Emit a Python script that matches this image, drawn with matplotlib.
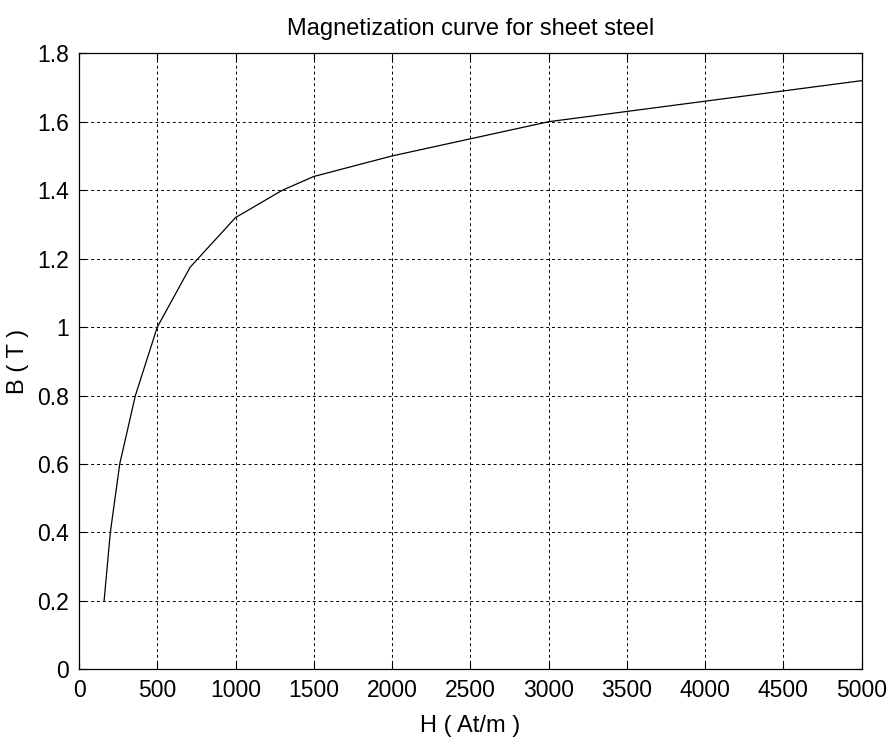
import numpy as np
import matplotlib.pyplot as plt

plt.rcParams['font.family'] = ['Liberation Sans', 'DejaVu Sans']

# magnetization curve
H = [160, 200, 260, 360, 500, 710, 1000, 1300, 1500, 2000, 2500, 3000, 5000]
B = [0.2, 0.4, 0.6, 0.8, 1.0, 1.175, 1.32, 1.4, 1.44, 1.5, 1.55, 1.6, 1.72]

xticks = np.arange(0, 5001, 500)
yticks = [0, 0.2, 0.4, 0.6, 0.8, 1, 1.2, 1.4, 1.6, 1.8]
ytick_labels = ['0', '0.2', '0.4', '0.6', '0.8', '1', '1.2', '1.4', '1.6', '1.8']

fig = plt.figure(figsize=(8.91, 7.44), dpi=100)
ax = fig.add_axes([0.0887, 0.1004, 0.8784, 0.828])

ax.plot(H, B, color='black', lw=0.9)

ax.set_xlim(0, 5000)
ax.set_ylim(0, 1.8)
ax.set_xticks(xticks)
ax.set_xticklabels([str(v) for v in xticks])
ax.set_yticks(yticks)
ax.set_yticklabels(ytick_labels)

ax.grid(True, color='black', linestyle=(0, (3, 3)), linewidth=0.7)
ax.tick_params(direction='in', length=5, width=0.8, labelsize=16.5,
               top=True, right=True, pad=7)
for s in ax.spines.values():
    s.set_linewidth(0.9)

ax.set_title('Magnetization curve for sheet steel', fontsize=17, pad=13)
ax.set_xlabel('H ( At/m )', fontsize=17, labelpad=9)
ax.set_ylabel('B ( T )', fontsize=17, labelpad=6)

plt.savefig('out.png', dpi=100)
